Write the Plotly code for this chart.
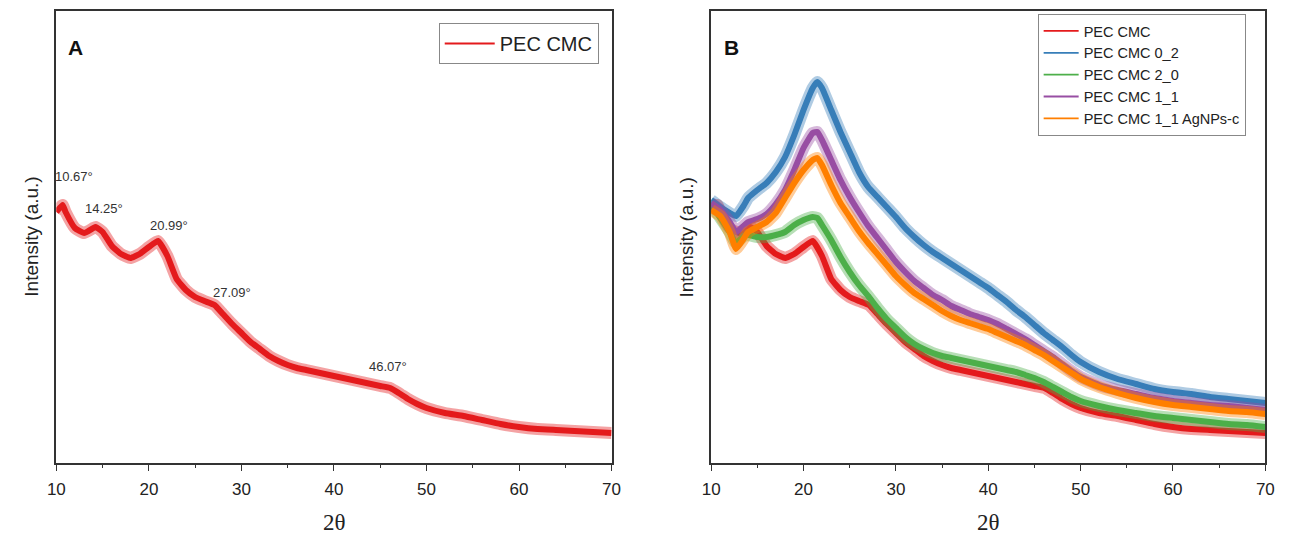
import plotly.graph_objects as go

# 2-theta positions (deg) and intensities (a.u.) for PEC CMC
two_theta_a = [10, 10.67, 11, 12, 13, 14, 14.25, 15, 16, 17,
               18, 19, 20, 20.99, 22, 23, 24, 25, 26, 27.09,
               28, 29, 30, 31, 32, 33, 34, 35, 36, 37,
               38, 39, 40, 41, 42, 43, 44, 45, 46.07, 47,
               48, 49, 50, 52, 54, 56, 58, 60, 62, 64,
               66, 68, 70]
pec_cmc = [251, 258, 251, 235, 230, 235, 236, 231, 217, 209,
           205, 209, 216, 222, 207, 184, 173, 166, 162, 158,
           149, 139, 130, 121, 114, 107, 102, 98, 95, 93,
           91, 89, 87, 85, 83, 81, 79, 77, 75, 70,
           64, 59, 55, 50, 47, 43, 39, 36, 34, 33,
           32, 31, 30]

# labelled reflections of PEC CMC
peaks_a = [10.67, 14.25, 20.99, 27.09, 46.07]
peak_label_shift = [(11, 29), (8, 19), (11, 16), (18, 13), (-2, 22)]

# shared 2-theta grid for the other films
two_theta_b = [10, 11, 12, 12.7, 13.5, 14, 15, 16, 17, 18,
               19, 20, 21, 21.5, 22, 23, 24, 25, 26, 27,
               28, 29, 30, 31, 32, 33, 34, 35, 36, 37,
               38, 39, 40, 41, 42, 43, 44, 45, 46, 47,
               48, 49, 50, 52, 54, 56, 58, 60, 62, 64,
               66, 68, 70]
pec_cmc_0_2 = [263, 256, 250, 247, 257, 265, 273, 280, 291, 306,
               328, 353, 375, 381, 375, 353, 331, 311, 291, 276,
               266, 256, 246, 235, 226, 218, 211, 205, 199, 193,
               187, 181, 175, 168, 161, 153, 146, 138, 130, 123,
               116, 108, 101, 91, 84, 79, 74, 71, 69, 66,
               64, 62, 60]
pec_cmc_2_0 = [258, 245, 231, 220, 227, 228, 226, 226, 228, 231,
               238, 243, 246, 245, 238, 223, 206, 191, 178, 167,
               155, 144, 135, 126, 119, 114, 110, 107, 105, 103,
               101, 99, 97, 95, 93, 91, 88, 85, 81, 76,
               71, 66, 62, 57, 53, 50, 47, 45, 43, 41,
               39, 38, 36]
pec_cmc_1_1 = [260, 253, 241, 231, 237, 241, 244, 249, 259, 273,
               293, 315, 330, 331, 323, 303, 283, 266, 251, 237,
               225, 213, 201, 191, 182, 175, 168, 163, 157, 153,
               149, 146, 143, 139, 134, 129, 124, 118, 112, 106,
               99, 92, 86, 78, 73, 69, 65, 62, 60, 58,
               57, 55, 53]
pec_cmc_1_1_ag = [253, 247, 231, 214, 224, 231, 236, 241, 250, 265,
                  280, 293, 303, 305, 298, 278, 260, 246, 232, 220,
                  209, 198, 187, 178, 170, 164, 158, 152, 147, 143,
                  140, 137, 134, 130, 126, 122, 118, 113, 108, 102,
                  96, 90, 84, 76, 70, 65, 61, 58, 56, 54,
                  52, 51, 49]

RED, BLUE, GREEN, PURPLE, ORANGE = "#E41A1C", "#377EB8", "#4DAF4A", "#984EA3", "#FF7F00"
SANS = "Liberation Sans, Arial, sans-serif"

fig = go.Figure()


def add_pattern(x, y, name, color, xaxis, yaxis, legend):
    # wide translucent band under a solid core, mimicking the noisy scan
    fig.add_trace(go.Scatter(
        x=x, y=y, mode="lines", line=dict(color=color, width=12, shape="spline", smoothing=0.4),
        opacity=0.4, xaxis=xaxis, yaxis=yaxis, showlegend=False, hoverinfo="skip"))
    fig.add_trace(go.Scatter(
        x=x, y=y, mode="lines", name=name,
        line=dict(color=color, width=6, shape="spline", smoothing=0.4),
        xaxis=xaxis, yaxis=yaxis, showlegend=False))
    # thin-line legend key
    fig.add_trace(go.Scatter(
        x=[None], y=[None], mode="lines", name=name, line=dict(color=color, width=1.8),
        xaxis=xaxis, yaxis=yaxis, legend=legend, showlegend=True))


add_pattern(two_theta_a, pec_cmc, "PEC CMC", RED, "x", "y", "legend")

add_pattern(two_theta_a, pec_cmc, "PEC CMC", RED, "x2", "y2", "legend2")
add_pattern(two_theta_b, pec_cmc_0_2, "PEC CMC 0_2", BLUE, "x2", "y2", "legend2")
add_pattern(two_theta_b, pec_cmc_2_0, "PEC CMC 2_0", GREEN, "x2", "y2", "legend2")
add_pattern(two_theta_b, pec_cmc_1_1, "PEC CMC 1_1", PURPLE, "x2", "y2", "legend2")
add_pattern(two_theta_b, pec_cmc_1_1_ag, "PEC CMC 1_1 AgNPs-c", ORANGE, "x2", "y2", "legend2")

W, H = 1301, 536
top_px, bot_px = 11, 463
ydom = [1 - bot_px / H, 1 - top_px / H]
axis_font = dict(family=SANS, size=17, color="#222")

xcommon = dict(range=[10, 70], tickvals=[10, 20, 30, 40, 50, 60, 70], ticks="outside",
               ticklen=6, tickwidth=1.3, tickcolor="#333", showline=True, linecolor="#333",
               linewidth=1.6, mirror=True, showgrid=False, zeroline=False, tickfont=axis_font,
               ticklabelstandoff=4,
               minor=dict(tickvals=[15, 25, 35, 45, 55, 65], ticks="outside", ticklen=3,
                          tickwidth=1.2, tickcolor="#333"))
ycommon = dict(range=[0, bot_px - top_px], showticklabels=False, ticks="", showline=True,
               linecolor="#333", linewidth=1.6, mirror=True, showgrid=False, zeroline=False)

fig.update_layout(
    width=W, height=H, margin=dict(l=0, r=0, t=0, b=0),
    paper_bgcolor="white", plot_bgcolor="white",
    xaxis=dict(domain=[48 / W, 611 / W], anchor="y", **xcommon),
    yaxis=dict(domain=ydom, anchor="x", **ycommon),
    xaxis2=dict(domain=[712 / W, 1274 / W], anchor="y2", **xcommon),
    yaxis2=dict(domain=ydom, anchor="x2", **ycommon),
    legend=dict(x=598 / W, y=1 - 23 / H, xanchor="right", yanchor="top",
                bgcolor="white", bordercolor="#888", borderwidth=1,
                font=dict(family=SANS, size=20, color="#222"),
                itemwidth=50, tracegroupgap=0),
    legend2=dict(x=1254 / W, y=1 - 14 / H, xanchor="right", yanchor="top",
                 bgcolor="white", bordercolor="#888", borderwidth=1,
                 font=dict(family=SANS, size=14.5, color="#222"),
                 itemwidth=35, tracegroupgap=0),
    showlegend=True,
)

annotations = []
# reflection labels for PEC CMC
for p, (dx, dy) in zip(peaks_a, peak_label_shift):
    yv = pec_cmc[two_theta_a.index(p)]
    annotations.append(dict(x=p, y=yv, xref="x", yref="y", text=f"{p:.2f}°", showarrow=False,
                            xshift=dx, yshift=dy, xanchor="center", yanchor="middle",
                            font=dict(family=SANS, size=13, color="#333")))

# panel letters
for txt, xp in [("A", 67), ("B", 733)]:
    annotations.append(dict(x=xp / W, y=1 - 47 / H, xref="paper", yref="paper", text=f"<b>{txt}</b>",
                            xanchor="center", yanchor="middle", showarrow=False,
                            font=dict(family=SANS, size=21, color="#111")))

# axis titles
for xc in [330, 993]:
    annotations.append(dict(x=xc / W, y=1 - 522 / H, xref="paper", yref="paper", text="2θ",
                            xanchor="center", yanchor="middle", showarrow=False,
                            font=dict(family="Liberation Serif, Times New Roman, serif",
                                      size=23, color="#222")))
for xc in [22, 687]:
    annotations.append(dict(x=xc / W, y=1 - 237 / H, xref="paper", yref="paper",
                            text="Intensity (a.u.)", textangle=-90, showarrow=False,
                            xanchor="center", yanchor="middle",
                            font=dict(family=SANS, size=19, color="#222")))

fig.update_layout(annotations=annotations)
fig.write_html("out.html")
